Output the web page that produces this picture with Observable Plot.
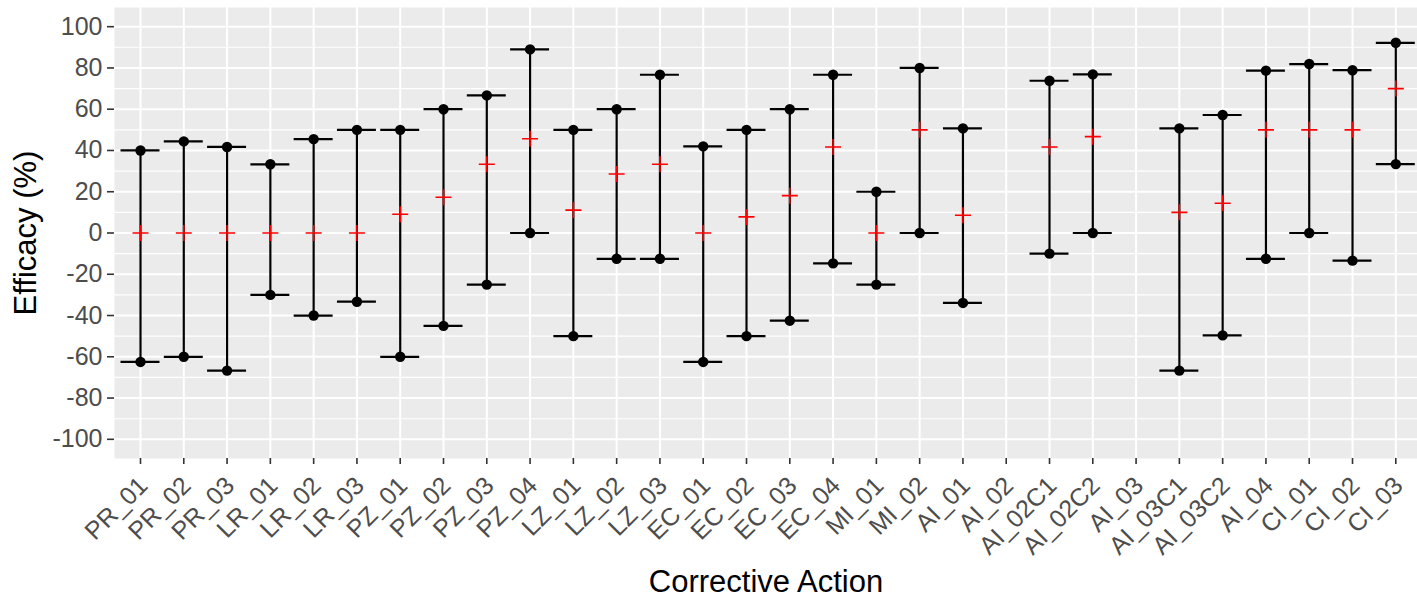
<!DOCTYPE html>
<html>
<head>
<meta charset="utf-8">
<script src="https://cdn.jsdelivr.net/npm/d3@7"></script>
<script src="https://cdn.jsdelivr.net/npm/@observablehq/plot@0.6"></script>
<style>
  html, body { margin: 0; padding: 0; background: #fff; overflow: hidden; }
</style>
</head>
<body>
<div id="chart"></div>
<script>
const categories = ["PR_01","PR_02","PR_03","LR_01","LR_02","LR_03","PZ_01","PZ_02","PZ_03","PZ_04",
  "LZ_01","LZ_02","LZ_03","EC_01","EC_02","EC_03","EC_04","MI_01","MI_02","AI_01",
  "AI_02","AI_02C1","AI_02C2","AI_03","AI_03C1","AI_03C2","AI_04","CI_01","CI_02","CI_03"];
const upperValues = [40, 44.4, 41.7, 33.3, 45.5, 50, 50, 60, 66.7, 89,
  50, 60, 76.7, 42, 50, 60, 76.7, 20, 80, 50.7,
  null, 73.8, 76.9, null, 50.7, 57.2, 78.7, 81.9, 78.9, 92.2];
const meanValues = [0, 0, 0, 0, 0, 0, 9.1, 17.3, 33.3, 45.7,
  11.1, 28.6, 33.3, 0, 7.8, 18.1, 41.7, 0, 50, 8.6,
  null, 41.7, 46.7, null, 10, 14.4, 50, 50, 50, 70];
const lowerValues = [-62.5, -60, -66.7, -30, -40, -33.3, -60, -45, -25, 0,
  -50, -12.5, -12.5, -62.5, -50, -42.5, -14.7, -25, 0, -33.9,
  null, -10, 0, null, -66.7, -49.6, -12.5, 0, -13.4, 33.4];
const yTicks = [-100, -80, -60, -40, -20, 0, 20, 40, 60, 80, 100];
const yMinor = [-90, -70, -50, -30, -10, 10, 30, 50, 70, 90];

const rows = categories.map((c, i) => ({cat: c, upper: upperValues[i], mean: meanValues[i], lower: lowerValues[i]}))
  .filter(d => d.upper != null);

const plusSymbol = {
  draw(context, size) {
    const r = Math.sqrt(size / Math.PI);
    context.moveTo(-r, 0); context.lineTo(r, 0);
    context.moveTo(0, -r); context.lineTo(0, r);
  }
};

const W = 1417, H = 599;
const step = (1395.3 - 140) / 29;

const chart = Plot.plot({
  width: W,
  height: H,
  marginLeft: 114,
  marginRight: 0,
  marginTop: 7,
  marginBottom: 141,
  style: {fontFamily: "'Liberation Sans', Arial, sans-serif", background: "#fff"},
  x: {type: "band", domain: categories, range: [140 - step / 2, 1395.3 + step / 2], paddingInner: 0.1, paddingOuter: 0.05, round: false},
  y: {domain: [-109.3, 109.3]},
  marks: [
    Plot.frame({fill: "#EBEBEB", stroke: null}),
    Plot.ruleY(yMinor, {stroke: "#fff", strokeWidth: 1.1}),
    Plot.ruleY(yTicks, {stroke: "#fff", strokeWidth: 2}),
    Plot.ruleX(categories, {stroke: "#fff", strokeWidth: 2}),
    Plot.ruleX(rows, {x: "cat", y1: "lower", y2: "upper", stroke: "#000", strokeWidth: 2.2}),
    Plot.tickY(rows, {x: "cat", y: "upper", stroke: "#000", strokeWidth: 2.2}),
    Plot.tickY(rows, {x: "cat", y: "lower", stroke: "#000", strokeWidth: 2.2}),
    Plot.dot(rows, {x: "cat", y: "upper", r: 5.2, fill: "#000", stroke: null}),
    Plot.dot(rows, {x: "cat", y: "lower", r: 5.2, fill: "#000", stroke: null}),
    Plot.dot(rows, {x: "cat", y: "mean", r: 8, symbol: plusSymbol, stroke: "#FF0000", fill: "none", strokeWidth: 1.6}),
    Plot.axisY({ticks: yTicks, tickSize: 7, tickPadding: 5, fontSize: 25, fill: "#4D4D4D", stroke: "#333", strokeWidth: 1.6, tickFormat: d => String(d), label: null}),
    Plot.axisX({tickSize: 6, stroke: "#333", strokeWidth: 1.6, tickFormat: () => "", label: null}),
    Plot.axisX({tickSize: 0, tickPadding: 10, tickRotate: -45, fontSize: 25, fill: "#4D4D4D", label: null, dx: 3, dy: 13}),
    Plot.text(["Efficacy (%)"], {frameAnchor: "left", dx: -88, rotate: -90, fontSize: 31, fill: "#000", textAnchor: "middle", lineAnchor: "middle"}),
    Plot.text(["Corrective Action"], {frameAnchor: "bottom", dy: 124, fontSize: 31, fill: "#000", textAnchor: "middle", lineAnchor: "middle"})
  ]
});
document.getElementById("chart").appendChild(chart);
</script>
</body>
</html>
